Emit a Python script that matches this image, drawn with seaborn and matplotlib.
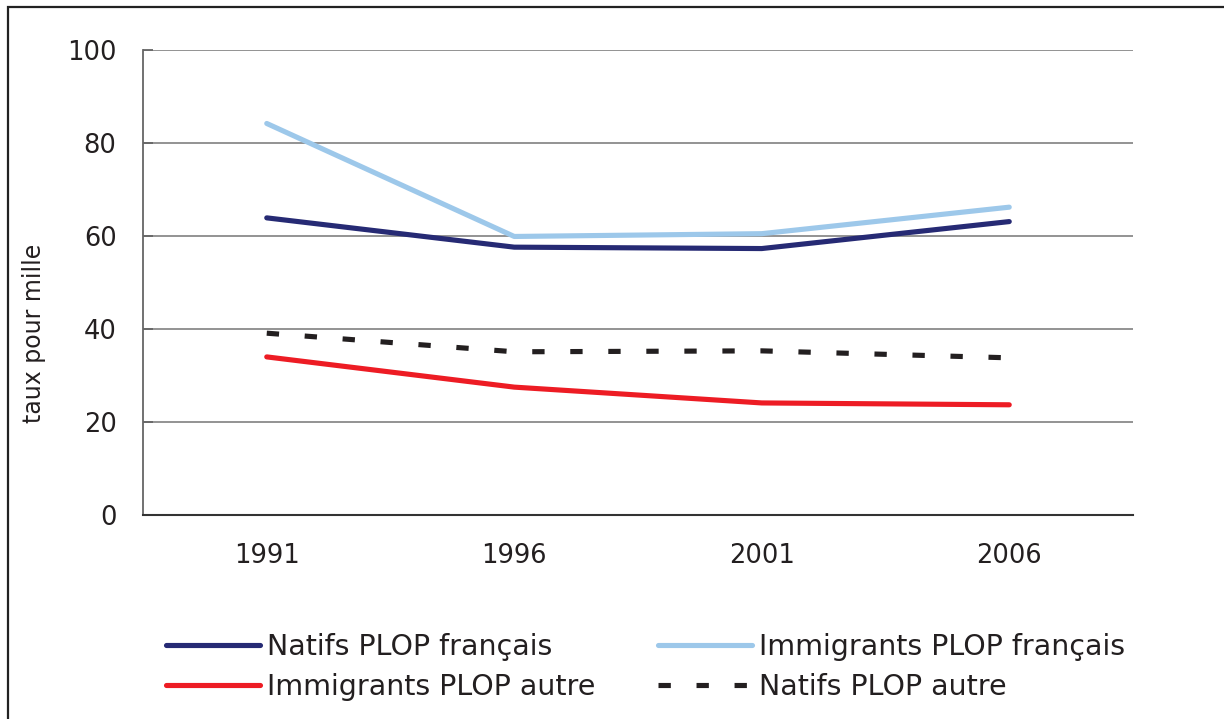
import matplotlib
matplotlib.use("Agg")
import matplotlib.pyplot as plt
import matplotlib.patches as mpatches
import seaborn as sns
import pandas as pd

years = ["1991", "1996", "2001", "2006"]
natifs_fr = [63.9, 57.6, 57.3, 63.1]
immig_fr = [84.2, 59.9, 60.5, 66.2]
immig_autre = [34.0, 27.5, 24.1, 23.7]
natifs_autre = [39.1, 35.1, 35.3, 33.8]

series_names = ["Natifs PLOP français", "Immigrants PLOP français",
                "Immigrants PLOP autre", "Natifs PLOP autre"]
series_vals = [natifs_fr, immig_fr, immig_autre, natifs_autre]
colors = ["#262a74", "#9dc8ea", "#ed1c24", "#231f20"]
y_ticks = [0, 20, 40, 60, 80, 100]
y_label = "taux pour mille"

rows = []
for name, vals in zip(series_names, series_vals):
    for yr, v in zip(years, vals):
        rows.append({"year": yr, "val": v, "serie": name})
df = pd.DataFrame(rows)

sns.set_theme(style="white")
plt.rcParams["font.family"] = ["DejaVu Sans"]

fig = plt.figure(figsize=(12.24, 7.19), dpi=100)
ax = fig.add_axes([143/1224, 1-515/719, (1133-143)/1224, (515-50)/719])

palette = dict(zip(series_names, colors))
dashes = {series_names[0]: "", series_names[1]: "", series_names[2]: "",
          series_names[3]: (2.4, 5.0)}
sns.lineplot(data=df, x="year", y="val", hue="serie", style="serie",
             hue_order=series_names, style_order=series_names,
             palette=palette, dashes=dashes, linewidth=3.7,
             ax=ax, sort=False, legend=True)
for ln in ax.get_lines():
    ln.set_solid_capstyle("round")
    ln.set_dash_capstyle("butt")

ax.set_xlim(-0.5, 3.5)
ax.set_ylim(0, 100)
ax.set_yticks(y_ticks)
ax.set_xlabel("")
ax.set_ylabel(y_label, fontsize=17, color="#231f20")
ax.yaxis.set_label_coords(-(143 - 46) / 990, 0.39)
ax.yaxis.grid(True, color="#8a8a8a", linewidth=1.3)
ax.set_axisbelow(True)
for s in ["top", "right"]:
    ax.spines[s].set_visible(False)
ax.spines["left"].set_color("#666666")
ax.spines["left"].set_linewidth(1.3)
ax.spines["bottom"].set_color("#333333")
ax.spines["bottom"].set_linewidth(1.5)
ax.tick_params(axis="y", direction="in", length=7, width=1.3, color="#666666",
               labelsize=18.5, labelcolor="#231f20", pad=19, left=True)
ax.tick_params(axis="x", length=0, labelsize=18.5, labelcolor="#231f20", pad=20)

handles, labels = ax.get_legend_handles_labels()
ax.get_legend().remove()
hmap = dict(zip(labels, handles))
order = [series_names[0], series_names[2], series_names[1], series_names[3]]
fig.legend([hmap[n] for n in order], order, ncol=2, frameon=False,
           loc="center left", bbox_to_anchor=(166/1224, 1-667/719),
           fontsize=20.5, handlelength=3.3, handletextpad=0.25,
           columnspacing=2.2, labelspacing=0.45, borderpad=0,
           borderaxespad=0, labelcolor="#231f20")

fig.patches.append(mpatches.Rectangle((8/1224, -0.01), 1.2, 1.01 - 7/719,
                                      transform=fig.transFigure, fill=False,
                                      edgecolor="#222222", linewidth=1.6))

fig.savefig("out.png", dpi=100)
